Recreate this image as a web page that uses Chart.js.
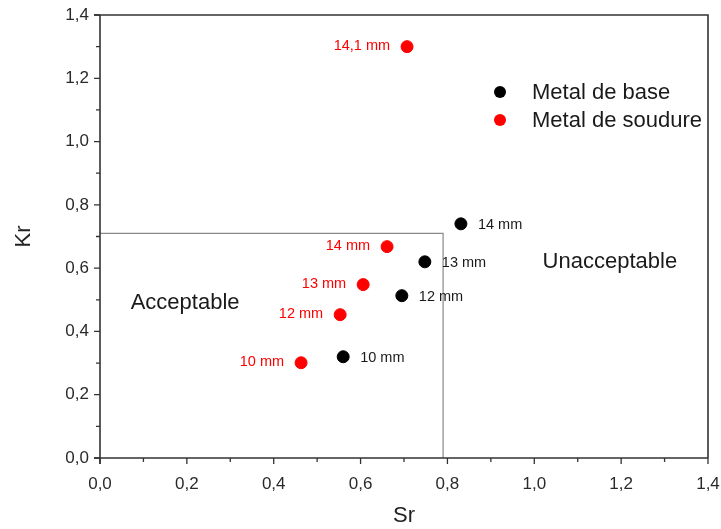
<!DOCTYPE html>
<html>
<head>
<meta charset="utf-8">
<script src="https://cdn.jsdelivr.net/npm/chart.js@4"></script>
<style>
html,body{margin:0;padding:0;background:#fff;}
#wrap{width:721px;height:529px;}
</style>
</head>
<body>
<div id="wrap"><canvas id="c" width="721" height="529"></canvas></div>
<script>
// ---- data ----
const baseSr = [0.560, 0.695, 0.748, 0.831];
const baseKr = [0.320, 0.513, 0.620, 0.740];
const baseLabels = ['10 mm', '12 mm', '13 mm', '14 mm'];

const weldSr = [0.463, 0.553, 0.606, 0.661, 0.707];
const weldKr = [0.301, 0.453, 0.548, 0.668, 1.300];
const weldLabels = ['10 mm', '12 mm', '13 mm', '14 mm', '14,1 mm'];

const limitSr = [0, 0.79, 0.79];
const limitKr = [0.71, 0.71, 0];

const tickValues = [0, 0.2, 0.4, 0.6, 0.8, 1.0, 1.2, 1.4];
const seriesNames = ['Metal de base', 'Metal de soudure'];
const zoneNames = ['Acceptable', 'Unacceptable'];
const zonePos = [[0.196, 0.49], [1.174, 0.62]];

const FONT = '"Liberation Sans", Arial, sans-serif';
const fmt = v => v.toFixed(1).replace('.', ',');

const toPts = (xs, ys) => xs.map((x, i) => ({x: x, y: ys[i]}));

const decorPlugin = {
  id: 'decor',
  afterDatasetsDraw(chart) {
    const ctx = chart.ctx;
    const xs = chart.scales.x, ys = chart.scales.y;
    const a = chart.chartArea;
    ctx.save();
    // frame
    ctx.strokeStyle = '#333';
    ctx.lineWidth = 1.6;
    ctx.beginPath();
    ctx.moveTo(a.left - 6, a.top); ctx.lineTo(a.right, a.top); ctx.lineTo(a.right, a.bottom);
    ctx.stroke();
    ctx.beginPath();
    ctx.moveTo(a.left, a.top); ctx.lineTo(a.left, a.bottom + 6);
    ctx.moveTo(a.left - 6, a.bottom); ctx.lineTo(a.right, a.bottom);
    ctx.stroke();
    // ticks
    ctx.lineWidth = 1.3;
    ctx.beginPath();
    for (let k = 0; k <= 14; k++) {
      const v = k / 10;
      const len = (k % 2 === 0) ? 6 : 4;
      const px = xs.getPixelForValue(v);
      ctx.moveTo(px, a.bottom); ctx.lineTo(px, a.bottom + len);
      const py = ys.getPixelForValue(v);
      ctx.moveTo(a.left, py); ctx.lineTo(a.left - len, py);
    }
    ctx.stroke();

    // point labels
    ctx.font = '14.5px ' + FONT;
    ctx.textBaseline = 'middle';
    const m0 = chart.getDatasetMeta(0).data;
    ctx.fillStyle = '#1a1a1a';
    ctx.textAlign = 'left';
    m0.forEach((p, i) => ctx.fillText(baseLabels[i], p.x + 17, p.y + 1));
    const m1 = chart.getDatasetMeta(1).data;
    ctx.fillStyle = '#ff0000';
    ctx.textAlign = 'right';
    m1.forEach((p, i) => ctx.fillText(weldLabels[i], p.x - 17, p.y - 1));

    // zone labels
    ctx.font = '22px ' + FONT;
    ctx.fillStyle = '#1a1a1a';
    ctx.textAlign = 'center';
    zoneNames.forEach((t, i) => {
      ctx.fillText(t, xs.getPixelForValue(zonePos[i][0]), ys.getPixelForValue(zonePos[i][1]));
    });

    // legend
    const lx = 500, ly = [92, 120];
    const cols = ['#000000', '#ff0000'];
    ctx.font = '22px ' + FONT;
    ctx.textAlign = 'left';
    seriesNames.forEach((n, i) => {
      ctx.fillStyle = cols[i];
      ctx.beginPath(); ctx.arc(lx, ly[i], 6, 0, Math.PI * 2); ctx.fill();
      ctx.fillStyle = '#1a1a1a';
      ctx.fillText(n, lx + 32, ly[i] + 1);
    });
    ctx.restore();
  }
};

new Chart(document.getElementById('c'), {
  type: 'scatter',
  data: {
    datasets: [
      {label: seriesNames[0], data: toPts(baseSr, baseKr), backgroundColor: '#000', borderColor: '#000', pointRadius: 6, pointHoverRadius: 6},
      {label: seriesNames[1], data: toPts(weldSr, weldKr), backgroundColor: '#ff0000', borderColor: '#ff0000', pointRadius: 6, pointHoverRadius: 6},
      {label: 'limit', data: toPts(limitSr, limitKr), showLine: true, borderColor: '#8a8a8a', borderWidth: 1.2, pointRadius: 0, fill: false}
    ]
  },
  options: {
    responsive: false,
    animation: false,
    devicePixelRatio: 1,
    layout: {padding: {top: 15, right: 13, left: 0, bottom: 0}},
    plugins: {legend: {display: false}, tooltip: {enabled: false}},
    scales: {
      x: {
        type: 'linear', min: 0, max: 1.4,
        afterBuildTicks: s => { s.ticks = tickValues.map(v => ({value: v})); },
        afterFit: s => { s.height = 71; s.paddingLeft = 0; s.paddingRight = 0; },
        grid: {display: false},
        border: {display: false},
        ticks: {callback: v => fmt(v), font: {family: FONT, size: 17}, color: '#2a2a2a', padding: 8, maxRotation: 0, autoSkip: false},
        title: {display: true, text: 'Sr', font: {family: FONT, size: 22}, color: '#222', padding: {top: 0, bottom: 0}}
      },
      y: {
        type: 'linear', min: 0, max: 1.4,
        afterBuildTicks: s => { s.ticks = tickValues.map(v => ({value: v})); },
        afterFit: s => { s.width = 100; s.paddingTop = 0; s.paddingBottom = 0; },
        grid: {display: false},
        border: {display: false},
        ticks: {callback: v => fmt(v), font: {family: FONT, size: 17}, color: '#2a2a2a', padding: 3, autoSkip: false},
        title: {display: true, text: 'Kr', font: {family: FONT, size: 22}, color: '#222', padding: {top: 11, bottom: 0}}
      }
    }
  },
  plugins: [decorPlugin]
});
</script>
</body>
</html>
